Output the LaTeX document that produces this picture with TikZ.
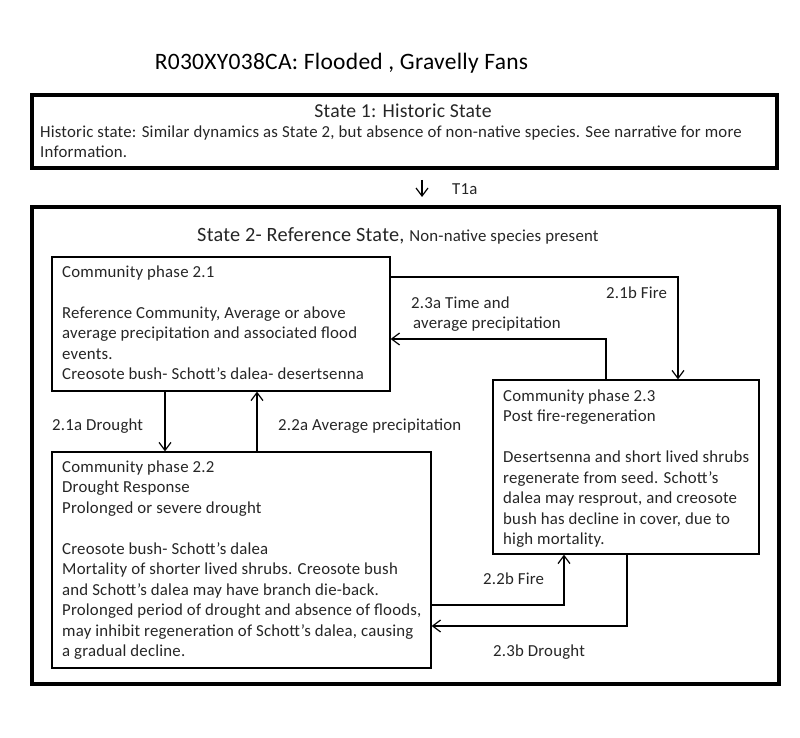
\documentclass[tikz,border=0pt]{standalone}
\usepackage{fontspec}
\setmainfont{Carlito}
\newfontfamily\bodyfont[LetterSpace=1.2]{Carlito}
\usetikzlibrary{arrows.meta}
\begin{document}
\begin{tikzpicture}[x=1pt,y=-1pt,
  body/.style={font=\bodyfont\fontsize{16.8}{20.5}\selectfont, inner sep=0pt, align=left, text=black!85},
  lbl/.style={font=\bodyfont\fontsize{16.8}{20.5}\selectfont, inner sep=0pt, text=black!85},
  thinbox/.style={draw, line width=1.3pt, minimum width=#1, inner sep=0pt},
  thickbox/.style={draw, line width=4pt, inner sep=0pt},
  arr/.style={-{Straight Barb[length=8pt,width=12pt,line width=1.2pt]}, line width=1.3pt},
]
\useasboundingbox (0,0) rectangle (800,738);
\fill[white] (0,0) rectangle (800,738);

% title
\node[font=\bodyfont\fontsize{23.5}{28}\selectfont, inner sep=0pt, anchor=base] (title) at (341.5,69.5) {R030XY038CA: Flooded , Gravelly Fans};

% State 1
\node[thickbox, minimum width=745pt, minimum height=73pt] (s1) at (404.5,131.5) {};
\node[font=\bodyfont\fontsize{19.7}{24}\selectfont, inner sep=0pt, anchor=base, text=black!85] (s1t) at (403,117.5) {State 1: Historic State};
\node[body, anchor=north west] (s1b) at (40,125.5) {Historic state: Similar dynamics as State 2, but absence of non-native species. See narrative for more\\Information.};

% State 2
\node[thickbox, minimum width=747pt, minimum height=477pt] (s2) at (405.5,445.5) {};
\node[inner sep=0pt, anchor=base west, text=black!85] (s2t) at (197,241) {\bodyfont\fontsize{20.3}{24}\selectfont State 2- Reference State, \fontsize{16.8}{20}\selectfont Non-native species present};

% T1a
\coordinate (xt) at (422,0);
\draw[arr, shorten <=10pt, shorten >=8pt] (s1.south -| xt) -- (s2.north -| xt);
\node[lbl, anchor=base west] (t1a) at (452,195) {T1a};

% community phases
\node[thinbox=338pt, minimum height=134pt] (p21) at (221,324) {};
\node[body, anchor=north west] (p21t) at (62,265.5) {Community phase 2.1\\[20.5pt]Reference Community,  Average or above\\average precipitation and associated flood\\events.\\Creosote bush- Schott’s dalea- desertsenna};

\node[thinbox=379pt, minimum height=216pt] (p22) at (241.5,560) {};
\node[body, anchor=north west] (p22t) at (62,460.5) {Community phase 2.2\\Drought Response\\Prolonged or severe drought\\[20.5pt]Creosote bush- Schott’s dalea\\Mortality of shorter lived shrubs. Creosote bush\\and Schott’s dalea may have branch die-back.\\Prolonged period of drought and absence of floods,\\may inhibit regeneration of Schott’s dalea, causing\\a gradual decline.};

\node[thinbox=266pt, minimum height=174pt] (p23) at (626,467) {};
\node[body, anchor=north west] (p23t) at (503,389.5) {Community phase 2.3\\Post fire-regeneration\\[20.5pt]Desertsenna and short lived shrubs\\regenerate from seed.  Schott’s\\dalea may resprout, and creosote\\bush has decline in cover, due to\\high mortality.};

% helper coordinates
\coordinate (xa) at (165,0);
\coordinate (xb) at (257,0);
\coordinate (xc) at (678,0);
\coordinate (yc) at (0,277);
\coordinate (xd) at (606,0);
\coordinate (yd) at (0,339);
\coordinate (xe) at (564,0);
\coordinate (ye) at (0,605);
\coordinate (xf) at (627,0);
\coordinate (yf) at (0,626);

% connectors
\draw[arr] (p21.south -| xa) -- (p22.north -| xa);
\draw[arr] (p22.north -| xb) -- (p21.south -| xb);
\draw[arr] (p21.east |- yc) -| (p23.north -| xc);
\draw[arr] (p23.north -| xd) |- (p21.east |- yd);
\draw[arr] (p22.east |- ye) -| (p23.south -| xe);
\draw[arr] (p23.south -| xf) |- (p22.east |- yf);

% labels
\node[lbl, anchor=base west] (l21a) at (52,430) {2.1a Drought};
\node[lbl, anchor=base west] (l22a) at (278,430) {2.2a Average precipitation};
\node[lbl, anchor=base west] (l21b) at (606,298) {2.1b Fire};
\node[lbl, anchor=base west] (l23a) at (411,308) {2.3a Time and};
\node[lbl, anchor=base west] (l23a2) at (413,328) {average precipitation};
\node[lbl, anchor=base west] (l22b) at (483,584) {2.2b Fire};
\node[lbl, anchor=base west] (l23b) at (493,656) {2.3b Drought};
\end{tikzpicture}
\end{document}
